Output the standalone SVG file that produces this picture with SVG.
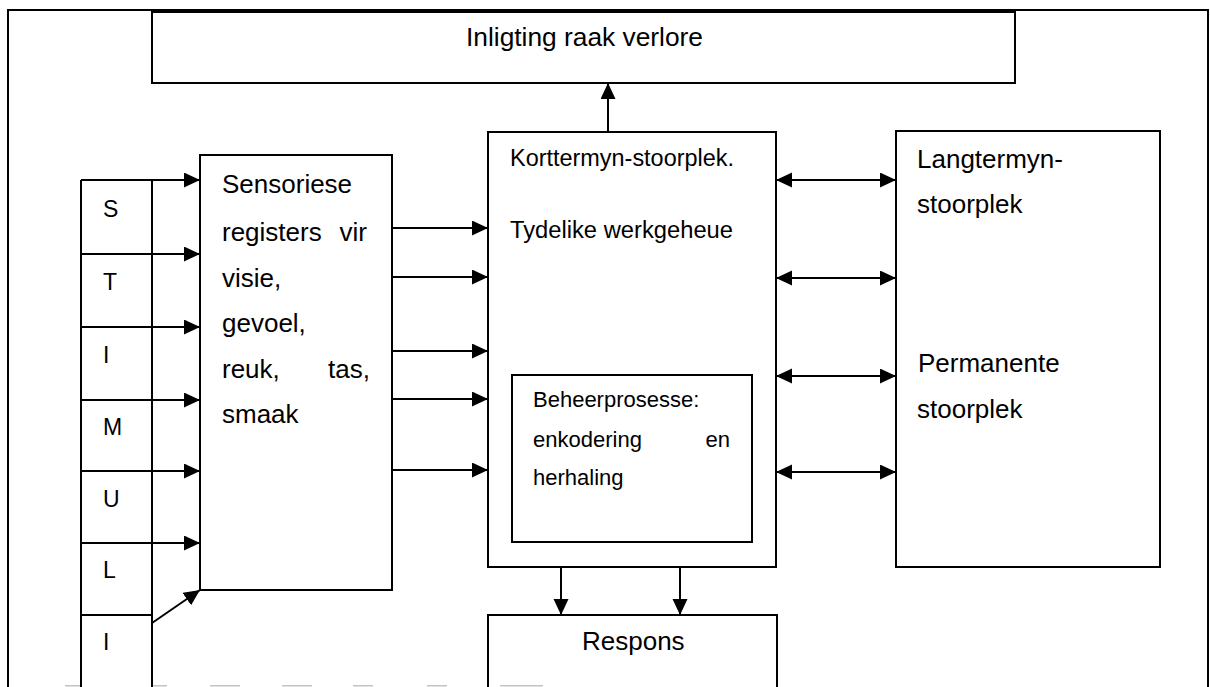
<svg xmlns="http://www.w3.org/2000/svg" width="1210" height="687" viewBox="0 0 1210 687">
  <style>
    .box { fill: none; stroke: #000; stroke-width: 2; }
    .ln { fill: none; stroke: #000; stroke-width: 2; }
    .arr { fill: none; stroke: #000; stroke-width: 2; marker-end: url(#head); }
    .bi { fill: none; stroke: #000; stroke-width: 2; marker-start: url(#head); marker-end: url(#head); }
    text { font-family: "Liberation Sans", Arial, sans-serif; fill: #000; }
    .t26 { font-size: 26px; }
    .t24 { font-size: 23.5px; }
    .t22 { font-size: 22px; }
    .stim { font-size: 23px; }
    .scrap { fill: #c4c4c4; }
  </style>
  <defs>
    <marker id="head" markerUnits="userSpaceOnUse" markerWidth="18" markerHeight="18" refX="16" refY="7.5" orient="auto-start-reverse">
      <path d="M0,0 L16,7.5 L0,15 Z" fill="#000"/>
    </marker>
  </defs>

  <rect width="1210" height="687" fill="#fff"/>

  <!-- outer frame, open at the bottom -->
  <path class="ln" d="M8,690 V10 H1208 V690"/>

  <g id="lost">
    <rect class="box" x="152" y="12" width="863" height="71"/>
    <text class="t26" x="466" y="46" textLength="237" lengthAdjust="spacingAndGlyphs">Inligting raak verlore</text>
  </g>

  <g id="stimuli">
    <path class="ln" d="M81,690 V180 M152,180 V690"/>
    <path class="ln" d="M81,180 H152 M81,254 H152 M81,327 H152 M81,400 H152 M81,471 H152 M81,543 H152 M81,615 H152"/>
    <text class="stim" x="103" y="217">S</text>
    <text class="stim" x="103" y="290">T</text>
    <text class="stim" x="103" y="363">I</text>
    <text class="stim" x="103" y="435">M</text>
    <text class="stim" x="103" y="507">U</text>
    <text class="stim" x="103" y="578">L</text>
    <text class="stim" x="103" y="650">I</text>
  </g>

  <g id="sensory">
    <rect class="box" x="200" y="155" width="192" height="435"/>
    <text class="t26" x="222" y="193">Sensoriese</text>
    <text class="t26" x="222" y="241">registers</text>
    <text class="t26" x="367" y="241" text-anchor="end">vir</text>
    <text class="t26" x="222" y="287">visie,</text>
    <text class="t26" x="222" y="332">gevoel,</text>
    <text class="t26" x="222" y="378">reuk,</text>
    <text class="t26" x="370" y="378" text-anchor="end">tas,</text>
    <text class="t26" x="222" y="423">smaak</text>
  </g>

  <g id="short-term">
    <rect class="box" x="488" y="132" width="288" height="435"/>
    <text class="t24" x="510" y="166" textLength="224" lengthAdjust="spacingAndGlyphs">Korttermyn-stoorplek.</text>
    <text class="t24" x="510" y="238" textLength="223" lengthAdjust="spacingAndGlyphs">Tydelike werkgeheue</text>
  </g>

  <g id="control">
    <rect class="box" x="512" y="375" width="240" height="167"/>
    <text class="t22" x="533" y="407">Beheerprosesse:</text>
    <text class="t22" x="533" y="447">enkodering</text>
    <text class="t22" x="730" y="447" text-anchor="end">en</text>
    <text class="t22" x="533" y="485">herhaling</text>
  </g>

  <g id="long-term">
    <rect class="box" x="896" y="131" width="264" height="436"/>
    <text class="t26" x="917" y="168">Langtermyn-</text>
    <text class="t26" x="917" y="213">stoorplek</text>
    <text class="t26" x="918" y="372">Permanente</text>
    <text class="t26" x="917" y="418">stoorplek</text>
  </g>

  <g id="response">
    <path class="ln" d="M488,690 V615 H777 V690"/>
    <text class="t26" x="582" y="650">Respons</text>
  </g>

  <g id="connectors">
    <!-- stimuli to sensory registers -->
    <path class="arr" d="M152,180 H200"/>
    <path class="arr" d="M152,254 H200"/>
    <path class="arr" d="M152,327 H200"/>
    <path class="arr" d="M152,400 H200"/>
    <path class="arr" d="M152,471 H200"/>
    <path class="arr" d="M152,543 H200"/>
    <path class="arr" d="M152,623 L200,590"/>
    <!-- sensory registers to short-term store -->
    <path class="arr" d="M392,228 H488"/>
    <path class="arr" d="M392,277 H488"/>
    <path class="arr" d="M392,351 H488"/>
    <path class="arr" d="M392,399 H488"/>
    <path class="arr" d="M392,470 H488"/>
    <!-- short-term store to lost information -->
    <path class="arr" d="M608,132 V83"/>
    <!-- short-term store and long-term store -->
    <path class="bi" d="M776,180 H896"/>
    <path class="bi" d="M776,278 H896"/>
    <path class="bi" d="M776,376 H896"/>
    <path class="bi" d="M776,472 H896"/>
    <!-- short-term store to response -->
    <path class="arr" d="M561,567 V615"/>
    <path class="arr" d="M680,567 V615"/>
  </g>

  <!-- tops of the next printed line, cut off at the page edge -->
  <g id="cut-line">
    <rect class="scrap" x="65" y="685" width="15" height="1.5"/>
    <rect class="scrap" x="153" y="685" width="14" height="1.5"/>
    <rect class="scrap" x="210" y="685" width="30" height="1.5"/>
    <rect class="scrap" x="282" y="685" width="30" height="1.5"/>
    <rect class="scrap" x="353" y="685" width="20" height="1.5"/>
    <rect class="scrap" x="427" y="685" width="20" height="1.5"/>
    <rect class="scrap" x="500" y="685" width="43" height="1.5"/>
  </g>
</svg>
